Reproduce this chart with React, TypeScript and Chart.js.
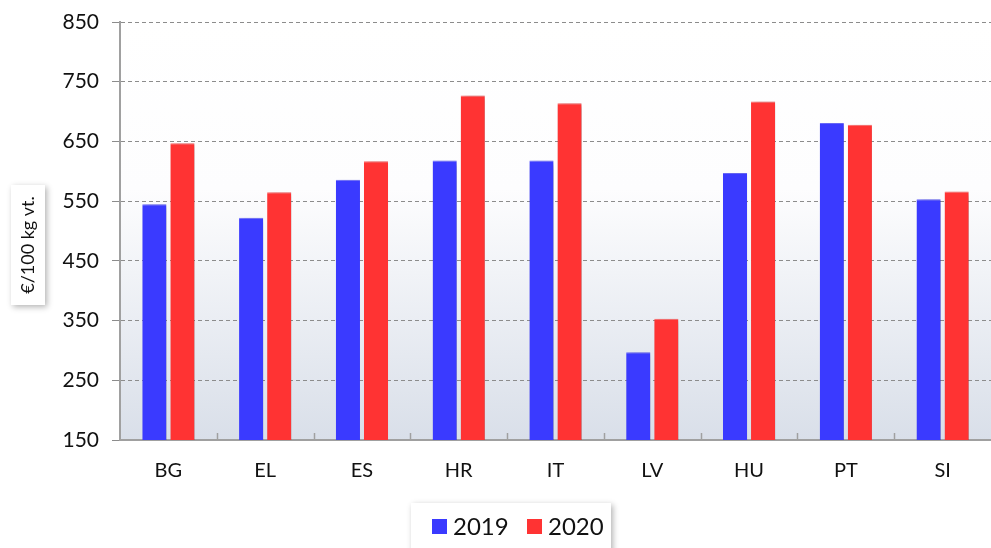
import React, { useEffect, useRef } from "react";
import { Chart, registerables } from "chart.js";

Chart.register(...registerables);

const categories = ["BG", "EL", "ES", "HR", "IT", "LV", "HU", "PT", "SI"];
const values2019 = [545, 522, 586, 618, 618, 297, 597, 681, 553];
const values2020 = [647, 565, 617, 727, 714, 353, 717, 678, 566];
const seriesLabels = ["2019", "2020"];
const yTitle = "€/100 kg vt.";
const yMin = 150;
const yMax = 850;
const yStep = 100;

const FONT = "Lato, 'Open Sans', sans-serif";
const BLUE = "#3a3aff";
const RED = "#ff3333";

const bgPlugin = {
  id: "bgPlugin",
  beforeDraw(chart: any) {
    const { ctx, chartArea } = chart;
    const { left, top, right, bottom } = chartArea;
    const g = ctx.createLinearGradient(0, top, 0, bottom);
    g.addColorStop(0, "#ffffff");
    g.addColorStop(0.4, "#fdfdfe");
    g.addColorStop(1, "#d9dfe9");
    ctx.save();
    ctx.fillStyle = g;
    ctx.fillRect(left, top, right - left, bottom - top);
    ctx.restore();
  },
};

const shadowPlugin = {
  id: "shadowPlugin",
  beforeDatasetsDraw(chart: any) {
    const ctx = chart.ctx;
    ctx.save();
    ctx.shadowColor = "rgba(0,0,0,0.38)";
    ctx.shadowBlur = 5;
    ctx.shadowOffsetX = 3;
    ctx.shadowOffsetY = 2;
  },
  afterDatasetsDraw(chart: any) {
    chart.ctx.restore();
    const { ctx, chartArea } = chart;
    const xs = chart.scales.x;
    ctx.save();
    ctx.strokeStyle = "#a0a0a0";
    ctx.lineWidth = 1.5;
    for (let i = 1; i < categories.length; i++) {
      const x = Math.round(xs.getPixelForValue(i - 0.5)) + 0.5;
      ctx.beginPath();
      ctx.moveTo(x, chartArea.bottom);
      ctx.lineTo(x, chartArea.bottom - 7);
      ctx.stroke();
    }
    ctx.restore();
  },
};

const decorPlugin = {
  id: "decorPlugin",
  afterDraw(chart: any) {
    const { ctx } = chart;
    // Y axis title box
    ctx.save();
    ctx.shadowColor = "rgba(0,0,0,0.3)";
    ctx.shadowBlur = 6;
    ctx.shadowOffsetX = 2;
    ctx.shadowOffsetY = 2;
    ctx.fillStyle = "#ffffff";
    ctx.fillRect(11, 185, 34, 120);
    ctx.restore();
    ctx.save();
    ctx.translate(28, 245);
    ctx.rotate(-Math.PI / 2);
    ctx.fillStyle = "#111";
    ctx.font = `18px ${FONT}`;
    ctx.textAlign = "center";
    ctx.textBaseline = "middle";
    ctx.fillText(yTitle, 0, 0);
    ctx.restore();

    // Legend box
    ctx.save();
    ctx.shadowColor = "rgba(0,0,0,0.3)";
    ctx.shadowBlur = 6;
    ctx.shadowOffsetX = 2;
    ctx.shadowOffsetY = 2;
    ctx.fillStyle = "#ffffff";
    ctx.fillRect(411, 503, 200, 60);
    ctx.restore();
    ctx.save();
    const colors = [BLUE, RED];
    const xs = [432, 527];
    ctx.font = `24px ${FONT}`;
    ctx.textBaseline = "middle";
    ctx.fillStyle = "#111";
    seriesLabels.forEach((lab, i) => {
      ctx.fillStyle = colors[i];
      ctx.fillRect(xs[i], 519, 15, 15);
      ctx.fillStyle = "#111";
      ctx.fillText(lab, xs[i] + 21, 527);
    });
    ctx.restore();
  },
};

export default function App() {
  const ref = useRef<HTMLCanvasElement>(null);
  useEffect(() => {
    if (!ref.current) return;
    const chart = new Chart(ref.current, {
      type: "bar",
      data: {
        labels: categories,
        datasets: [
          {
            label: seriesLabels[0],
            data: values2019,
            backgroundColor: BLUE,
            borderColor: "#6b6bff",
            borderWidth: { top: 1, left: 0, right: 0, bottom: 0 } as any,
            categoryPercentage: 0.58,
            barPercentage: 0.86,
          },
          {
            label: seriesLabels[1],
            data: values2020,
            backgroundColor: RED,
            borderColor: "#ff6b6b",
            borderWidth: { top: 1, left: 0, right: 0, bottom: 0 } as any,
            categoryPercentage: 0.58,
            barPercentage: 0.86,
          },
        ],
      },
      options: {
        animation: false,
        responsive: false,
        maintainAspectRatio: false,
        layout: { padding: { top: 22, right: 0, left: 0, bottom: 0 } },
        plugins: {
          legend: { display: false },
          tooltip: { enabled: false },
        },
        scales: {
          x: {
            grid: { display: false },
            border: { color: "#a0a0a0", width: 2 },
            ticks: {
              color: "#111",
              font: { family: FONT, size: 20 },
              padding: 11,
            },
            afterFit(scale: any) {
              scale.height = 108;
              scale.paddingLeft = 0;
              scale.paddingRight = 0;
            },
          },
          y: {
            min: yMin,
            max: yMax,
            ticks: {
              stepSize: yStep,
              color: "#111",
              font: { family: FONT, size: 21 },
              padding: 13,
            },
            grid: {
              color: "#8c8c8c",
              lineWidth: 1,
              tickLength: 8,
              tickColor: "#8c8c8c",
            },
            border: { color: "#a0a0a0", width: 2, dash: [4, 3] },
            afterFit(scale: any) {
              scale.width = 120;
              scale.paddingTop = 0;
              scale.paddingBottom = 0;
            },
          },
        },
      },
      plugins: [bgPlugin, shadowPlugin, decorPlugin],
    });
    return () => chart.destroy();
  }, []);
  return (
    <div style={{ position: "fixed", left: 0, top: 0, width: 991, height: 548, background: "#fff" }}>
      <canvas ref={ref} width={991} height={548} style={{ width: 991, height: 548 }} />
    </div>
  );
}
